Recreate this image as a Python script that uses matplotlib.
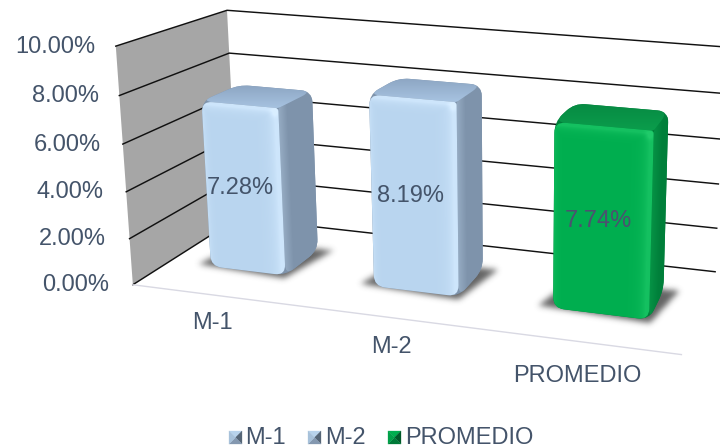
import numpy as np
import matplotlib
matplotlib.use("Agg")
import matplotlib.pyplot as plt
from matplotlib.path import Path
from matplotlib.patches import PathPatch, Polygon

categories = ["M-1", "M-2", "PROMEDIO"]
values = [7.28, 8.19, 7.74]
value_labels = ["7.28%", "8.19%", "7.74%"]
ticks = [0, 2, 4, 6, 8, 10]
tick_labels = ["0.00%", "2.00%", "4.00%", "6.00%", "8.00%", "10.00%"]

BASE = [("#B9D5EF", "#CDE5FB", "#7E93AB", "#8CA5C2", "#A8C4E2"),
        ("#B9D5EF", "#CDE5FB", "#7E93AB", "#8CA5C2", "#A8C4E2"),
        ("#00AE4F", "#14C060", "#007F3A", "#078A43", "#0B9E4C")]
TEXT = "#44546A"
plt.rcParams["font.family"] = ["Liberation Sans", "DejaVu Sans"]

fig = plt.figure(figsize=(7.2, 4.48), dpi=100)
ax = fig.add_axes([0, 0, 1, 1])
ax.set_xlim(0, 720); ax.set_ylim(448, 0); ax.axis("off")

# projective camera: (u along categories, v value fraction, w depth) -> pixels
cube = [((0, 0, 0), (131, 280)), ((0, 1, 0), (115, 42)), ((0, 1, 1), (229, 12)),
        ((0, 0, 1), (238, 224)), ((1, 0, 0), (682, 352)), ((1, 0, 1), (716, 272)),
        ((1, 1, 1), (720, 38)), ((1, 1, 0), (692, 106))]
A, b = [], []
for (X, Y, Z), (x, y) in cube:
    A.append([X, Y, Z, 1, 0, 0, 0, 0, -x*X, -x*Y, -x*Z]); b.append(x)
    A.append([0, 0, 0, 0, X, Y, Z, 1, -y*X, -y*Y, -y*Z]); b.append(y)
h = np.linalg.lstsq(np.array(A, float), np.array(b, float), rcond=None)[0]
H = np.append(h, 1).reshape(3, 4)

def proj(u, val, w):
    p = H @ np.array([u, val / 10.0, w, 1.0])
    return p[:2] / p[2]

def rounded(points, radii):
    pts = [np.array(p, float) for p in points]
    n = len(pts)
    verts, codes = [], []
    for i in range(n):
        p, a, c = pts[i], pts[i-1], pts[(i+1) % n]
        r = radii[i]
        s = p + (a-p) / np.linalg.norm(a-p) * r
        e = p + (c-p) / np.linalg.norm(c-p) * r
        verts.append(s); codes.append(Path.MOVETO if i == 0 else Path.LINETO)
        verts += [p, e]; codes += [Path.CURVE3, Path.CURVE3]
    verts.append(verts[0]); codes.append(Path.CLOSEPOLY)
    return Path(verts, codes)

def rgb(c):
    return np.array(matplotlib.colors.to_rgb(c))

def paint(path, func, z):
    e = path.get_extents()
    x0, x1, y0, y1 = int(e.x0)-1, int(e.x1)+2, int(e.y0)-1, int(e.y1)+2
    xs, ys = np.meshgrid(np.arange(x0, x1)+.5, np.arange(y0, y1)+.5)
    im = ax.imshow(func(xs, ys), extent=[x0, x1, y1, y0], aspect="auto",
                   interpolation="bilinear", zorder=z)
    im.set_clip_path(path, transform=ax.transData)

def soft_shadow(quad, sigma=3.0, strength=0.8, z=3):
    q = np.array(quad)
    x0, y0 = (q.min(axis=0) - 14).astype(int)
    x1, y1 = (q.max(axis=0) + 14).astype(int)
    xs, ys = np.meshgrid(np.arange(x0, x1)+.5, np.arange(y0, y1)+.5)
    mask = Path(q).contains_points(np.c_[xs.ravel(), ys.ravel()]).reshape(xs.shape).astype(float)
    k = np.exp(-np.arange(-9, 10)**2 / (2*sigma**2)); k /= k.sum()
    mask = np.apply_along_axis(lambda m: np.convolve(m, k, mode="same"), 0, mask)
    mask = np.apply_along_axis(lambda m: np.convolve(m, k, mode="same"), 1, mask)
    img = np.zeros(mask.shape + (4,))
    img[..., :3] = rgb("#3C3C3C")
    img[..., 3] = mask * strength
    ax.imshow(img, extent=[x0, x1, y1, y0], aspect="auto", interpolation="bilinear", zorder=z)

# left wall and gridlines
wall = [proj(0, 0, 0), proj(0, 10, 0), proj(0, 10, 1), proj(0, 0, 1)]
ax.add_patch(Polygon(wall, closed=True, fc="#A6A6A6", ec="none", zorder=1))
for t, lab in zip(ticks, tick_labels):
    pts = np.array([proj(0, t, 0), proj(0, t, 1), proj(1, t, 1)])
    ax.plot(pts[:, 0], pts[:, 1], color="#111111", lw=1.05, zorder=2, solid_joinstyle="miter")
    ax.text(pts[0, 0]-24+0.4*t, pts[0, 1]+0.5, lab, ha="right", va="center", fontsize=17, color=TEXT, zorder=6)
edge = np.array([proj(0, 0, 0), proj(1, 0, 0)])
ax.plot(edge[:, 0], edge[:, 1], color="#D9D9E3", lw=1.0, zorder=2)

W0, W1 = 0.32, 0.68
CENTER_SHIFT = [-0.005, -0.006, 0.003]
R = 11
for i, (cat, val, lab, cols) in enumerate(zip(categories, values, value_labels, BASE)):
    uc = (i + .5) / 3 + CENTER_SHIFT[i]
    half = 0.076 + 0.005 * i
    ul, ur = uc - half, uc + half
    fbl, ftl = proj(ul, 0, W0), proj(ul, val, W0)
    fbr, ftr = proj(ur, 0, W0), proj(ur, val, W0)
    bbr, btr = proj(ur, 0, W1), proj(ur, val, W1)
    btl = proj(ul, val, W1)
    soft_shadow([proj(ul-0.028, 0, W0+0.01), proj(ur+0.004, 0, W0-0.035),
                 proj(ur+0.028, 0, W1+0.02), proj(ul, 0, W1)])
    front, light, side, topb, topf = [rgb(c) for c in cols]
    sil = rounded([fbl, ftl, btl, btr, bbr, fbr], [R]*6)
    ax.add_patch(PathPatch(sil, fc=side, ec="none", zorder=4))
    # right face
    s_path = rounded([ftr, btr, bbr, fbr], [2, R, R, R])
    def sf(xs, ys, side=side, light=light):
        xe = ftr[0] + (ys-ftr[1])/(fbr[1]-ftr[1])*(fbr[0]-ftr[0])
        t = np.clip((xs - xe) / 9, 0, 1)[..., None]
        return (light*.30 + side*.70)*(1-t) + side*t
    paint(s_path, sf, 4.1)
    # top face
    t_path = rounded([ftl, ftr, btr, btl], [R, 2, R, R])
    def tf(xs, ys, topb=topb, topf=topf):
        t = np.clip((ys - ys.min()) / (ys.max()-ys.min()), 0, 1)[..., None]
        return topb*(1-t) + topf*t
    paint(t_path, tf, 4.2)
    # front face
    f_path = rounded([fbl, ftl, ftr, fbr], [R, R, 3, R])
    def ff(xs, ys, front=front, light=light):
        xr = ftr[0] + (ys-ftr[1])/(fbr[1]-ftr[1])*(fbr[0]-ftr[0])
        yt = ftl[1] + (xs-ftl[0])/(ftr[0]-ftl[0])*(ftr[1]-ftl[1])
        xl = ftl[0] + (ys-ftl[1])/(fbl[1]-ftl[1])*(fbl[0]-ftl[0])
        a = np.exp(-np.clip(xr-xs-4, 0, None)/6.0)
        b_ = np.exp(-np.clip(ys-yt-3, 0, None)/4.0)
        c = np.exp(-np.clip(xs-xl-1, 0, None)/3.0)*.5
        s = np.maximum.reduce([a, b_, c])
        hl = np.exp(-((xs-(ftr[0]-4))**2+(ys-(ftr[1]+4))**2)/22)
        s = np.clip(s+hl*.9, 0, 1.6)[..., None]
        return np.clip(front + (light-front)*s, 0, 1)
    paint(f_path, ff, 4.3)
    lp = proj(uc, val/2, W0)
    ax.text(lp[0]-4, lp[1]-0.5, lab, ha="center", va="center", fontsize=17,
            color=TEXT if i < 2 else "#4D5070", zorder=6)
    cp = proj((i + .5) / 3, 0, 0)
    ax.text(cp[0]-4.5+(2 if i == 1 else 0), cp[1]+28+i*i*1.5, cat, ha="center", va="center",
            fontsize=17, color=TEXT, zorder=6)

ax.set_xlim(0, 720); ax.set_ylim(448, 0)

# legend
LEG = [("M-1", 229, 245.5), ("M-2", 308, 325), ("PROMEDIO", 388, 405)]
for (name, mx, tx), front_c in zip(LEG, ["b", "b", "g"]):
    size = 13; y0 = 431; cx, cy = mx+size/2, y0+size/2
    tri = (["#B8D3EC", "#A7C1DA", "#8498B0", "#566677"] if front_c == "b"
           else ["#00AE4F", "#00A048", "#007A38", "#005A2A"])
    corners = [(mx, y0), (mx+size, y0), (mx+size, y0+size), (mx, y0+size)]
    for c, (a, b2) in zip([tri[0], tri[3], tri[2], tri[1]],
                          [(0, 1), (1, 2), (2, 3), (3, 0)]):
        ax.add_patch(Polygon([corners[a], corners[b2], (cx, cy)], closed=True, fc=c, ec=c, lw=.2, zorder=5))
    ax.text(tx, 437.5, name, ha="left", va="center", fontsize=17, color=TEXT, zorder=6)

fig.savefig("out.png", dpi=100)
